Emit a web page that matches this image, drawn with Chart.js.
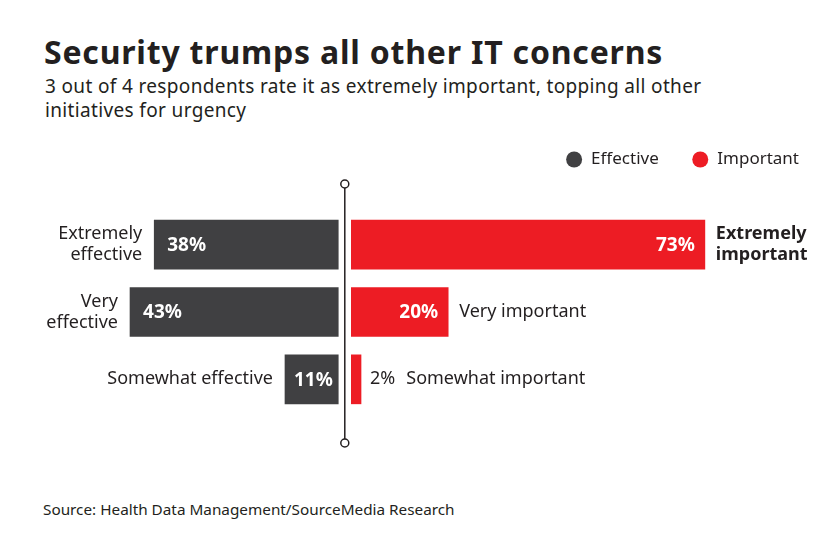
<!DOCTYPE html>
<html>
<head>
<meta charset="utf-8">
<script src="https://cdn.jsdelivr.net/npm/chart.js@4.4.1/dist/chart.umd.min.js"></script>
<style>
  body { margin: 0; background: #fff; font-family: "Noto Sans", sans-serif; color: #231f20; }
  #wrap { position: relative; width: 840px; height: 547px; overflow: hidden; }
  #title { position: absolute; left: 44px; top: 35.5px; font-size: 32px; line-height: 32px; font-weight: 700; letter-spacing: 0.8px; white-space: nowrap; }
  #subtitle { position: absolute; left: 45px; top: 75px; width: 760px; font-size: 19px; line-height: 23.5px; letter-spacing: 0.35px; }
  #source { position: absolute; left: 43px; top: 499px; font-size: 15.3px; line-height: 20px; }
  #chartBox { position: absolute; left: 0; top: 118px; width: 840px; height: 342px; }
</style>
</head>
<body>
<div id="wrap">
  <div id="title">Security trumps all other IT concerns</div>
  <div id="subtitle">3 out of 4 respondents rate it as extremely important, topping all other<br>initiatives for urgency</div>
  <div id="chartBox"><canvas id="chart"></canvas></div>
  <div id="source">Source: Health Data Management/SourceMedia Research</div>
</div>
<script>
// datos
var categories = ['Extremely', 'Very', 'Somewhat'];
var effectiveLabels = [['Extremely', 'effective'], ['Very', 'effective'], ['Somewhat effective']];
var importantLabels = [['Extremely', 'important'], ['Very important'], ['Somewhat important']];
var effective = [38, 43, 11];
var important = [73, 20, 2];

var GAP = 1.35; // hueco a cada lado de la linea central
var DARK = '#404042';
var RED = '#ed1c24';
var FONT = '"Noto Sans", sans-serif';

// etiquetas junto a cada barra
var barLabels = {
    id: 'barLabels',
    afterDatasetsDraw: function (chart) {
        var ctx = chart.ctx;
        ctx.save();
        ctx.textBaseline = 'middle';
        var maxImp = Math.max.apply(null, important);

        chart.getDatasetMeta(0).data.forEach(function (bar, i) {
            var left = Math.min(bar.x, bar.base);
            var lines = effectiveLabels[i];
            ctx.font = 'bold 19px ' + FONT;
            ctx.fillStyle = '#fff';
            ctx.textAlign = 'left';
            ctx.fillText(effective[i] + '%', left + (effective[i] < 20 ? 9 : 13), bar.y + 1);
            ctx.font = '18px ' + FONT;
            ctx.fillStyle = '#231f20';
            ctx.textAlign = 'right';
            lines.forEach(function (t, j) {
                ctx.fillText(t, left - 12, bar.y + (j - (lines.length - 1) / 2) * 21);
            });
        });

        chart.getDatasetMeta(1).data.forEach(function (bar, i) {
            var right = Math.max(bar.x, bar.base);
            var lines = importantLabels[i];
            var x = right + 11;
            if (right - Math.min(bar.x, bar.base) > 45) {
                ctx.font = 'bold 19px ' + FONT;
                ctx.fillStyle = '#fff';
                ctx.textAlign = 'right';
                ctx.fillText(important[i] + '%', right - 10, bar.y + 1);
            } else {
                ctx.font = '18px ' + FONT;
                ctx.fillStyle = '#231f20';
                ctx.textAlign = 'left';
                ctx.fillText(important[i] + '%', right + 9, bar.y);
                x = right + 9 + ctx.measureText(important[i] + '%').width + 11;
            }
            ctx.font = (important[i] === maxImp ? 'bold ' : '') + '18px ' + FONT;
            ctx.fillStyle = '#231f20';
            ctx.textAlign = 'left';
            lines.forEach(function (t, j) {
                ctx.fillText(t, x, bar.y + (j - (lines.length - 1) / 2) * 21);
            });
        });
        ctx.restore();
    }
};

// linea central con circulos en los extremos
var centerLine = {
    id: 'centerLine',
    afterDraw: function (chart) {
        var ctx = chart.ctx;
        var x0 = chart.scales.x.getPixelForValue(0);
        var top = chart.chartArea.top - 27;
        var bottom = chart.chartArea.bottom + 30;
        ctx.save();
        ctx.strokeStyle = '#231f20';
        ctx.lineWidth = 1.5;
        ctx.beginPath();
        ctx.moveTo(x0, top + 4);
        ctx.lineTo(x0, bottom - 4);
        ctx.stroke();
        [top, bottom].forEach(function (y) {
            ctx.beginPath();
            ctx.arc(x0, y, 4, 0, Math.PI * 2);
            ctx.fillStyle = '#fff';
            ctx.fill();
            ctx.stroke();
        });
        ctx.restore();
    }
};

// espacio extra bajo la leyenda
var legendSpace = {
    id: 'legendSpace',
    beforeInit: function (chart) {
        var fit = chart.legend.fit;
        chart.legend.fit = function () {
            fit.bind(chart.legend)();
            this.height = 93;
        };
    }
};

var ctx = document.getElementById('chart').getContext('2d');
var chart = new Chart(ctx, {
    type: 'bar',
    data: {
        labels: categories,
        datasets: [{
            label: 'Effective',
            data: effective.map(function (v) { return [-v - GAP, -GAP]; }),
            backgroundColor: DARK,
            borderWidth: 0,
            grouped: false,
            barThickness: 49
        }, {
            label: 'Important',
            data: important.map(function (v) { return [GAP, v + GAP]; }),
            backgroundColor: RED,
            borderWidth: 0,
            grouped: false,
            barThickness: 49
        }]
    },
    options: {
        indexAxis: 'y',
        responsive: true,
        maintainAspectRatio: false,
        animation: false,
        layout: { padding: { left: 30, right: 8, top: 0, bottom: 47 } },
        scales: {
            x: { display: false, min: -65, max: 100.6 },
            y: { display: false }
        },
        plugins: {
            tooltip: { enabled: false },
            legend: {
                position: 'top',
                align: 'end',
                labels: {
                    usePointStyle: true,
                    pointStyle: 'circle',
                    boxWidth: 17,
                    boxHeight: 11.3,
                    padding: 33,
                    color: '#231f20',
                    font: { family: FONT, size: 17 }
                }
            }
        }
    },
    plugins: [barLabels, centerLine, legendSpace]
});
</script>
</body>
</html>
